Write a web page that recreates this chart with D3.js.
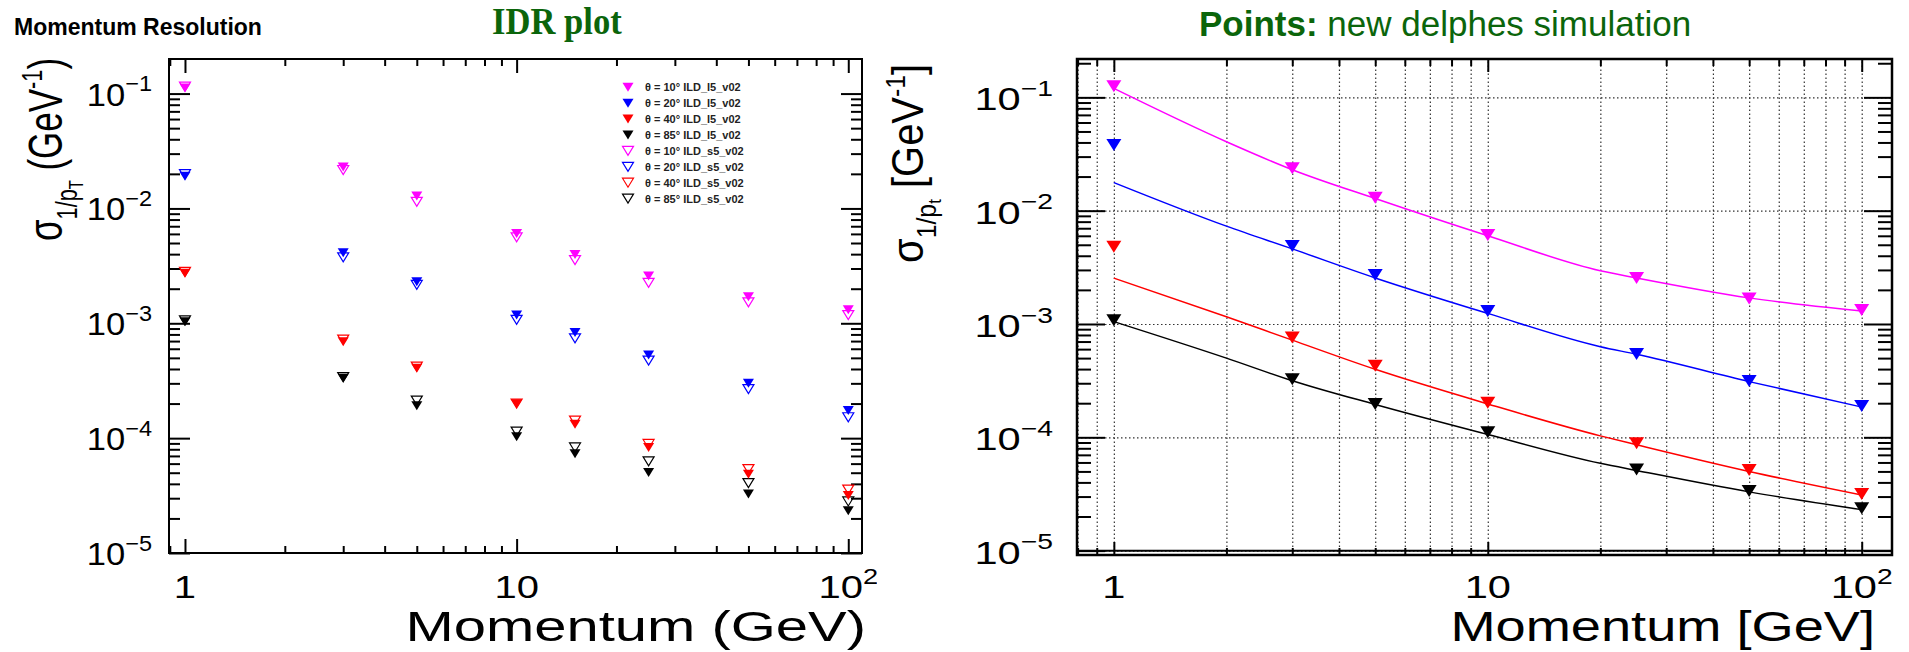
<!DOCTYPE html>
<html>
<head>
<meta charset="utf-8">
<script src="https://cdn.jsdelivr.net/npm/d3@7"></script>
<style>
  html, body { margin: 0; padding: 0; background: #fff; }
  svg { display: block; font-family: "Liberation Sans", Arial, Helvetica, sans-serif; }
</style>
</head>
<body>
<svg id="chart" width="1909" height="652"></svg>
<script>
// ---------------- data ----------------
const angleLabels = ["10", "20", "40", "85"];
const seriesColors = ["#ff00ff", "#0000ff", "#ff0000", "#000000"];

// IDR full simulation: momenta in GeV, sigma(1/pT) in GeV^-1
const momentaIDR = [1, 3, 5, 10, 15, 25, 50, 100];
const idrL5Theta10 = [0.112, 0.0230, 0.0128, 6.06e-3, 3.98e-3, 2.58e-3, 1.70e-3, 1.31e-3];
const idrL5Theta20 = [0.0191, 4.11e-3, 2.30e-3, 1.18e-3, 8.3e-4, 5.3e-4, 3.0e-4, 1.74e-4];
const idrL5Theta40 = [2.72e-3, 6.9e-4, 4.06e-4, 1.99e-4, 1.32e-4, 8.3e-5, 4.86e-5, 3.16e-5];
const idrL5Theta85 = [1.03e-3, 3.33e-4, 1.91e-4, 1.03e-4, 7.3e-5, 5.03e-5, 3.26e-5, 2.33e-5];
const idrS5Theta10 = [0.115, 0.0216, 0.0114, 5.6e-3, 3.55e-3, 2.25e-3, 1.52e-3, 1.18e-3];
const idrS5Theta20 = [0.0199, 3.75e-3, 2.16e-3, 1.07e-3, 7.4e-4, 4.73e-4, 2.67e-4, 1.52e-4];
const idrS5Theta40 = [2.8e-3, 7.2e-4, 4.2e-4, 2.0e-4, 1.42e-4, 8.9e-5, 5.37e-5, 3.56e-5];
const idrS5Theta85 = [1.06e-3, 3.4e-4, 2.12e-4, 1.14e-4, 8.3e-5, 6.27e-5, 4.06e-5, 2.81e-5];

// Delphes simulation points
const momentaDelphes = [1, 3, 5, 10, 25, 50, 100];
const delphesTheta10 = [0.125, 0.0237, 0.0130, 6.1e-3, 2.55e-3, 1.68e-3, 1.33e-3];
const delphesTheta20 = [0.038, 4.87e-3, 2.71e-3, 1.30e-3, 5.43e-4, 3.14e-4, 1.89e-4];
const delphesTheta40 = [4.8e-3, 7.6e-4, 4.27e-4, 2.02e-4, 8.85e-5, 5.14e-5, 3.16e-5];
const delphesTheta85 = [1.08e-3, 3.25e-4, 1.97e-4, 1.11e-4, 5.2e-5, 3.36e-5, 2.36e-5];

// Fitted resolution curves, sampled along momentum
const momentaFit = [1, 2, 3, 5, 10, 20, 25, 50, 100];
const fitTheta10 = [0.120, 0.0406, 0.0230, 0.0128, 6.0e-3, 2.95e-3, 2.55e-3, 1.70e-3, 1.30e-3];
const fitTheta20 = [0.0177, 7.3e-3, 4.6e-3, 2.55e-3, 1.24e-3, 6.3e-4, 5.4e-4, 3.1e-4, 1.85e-4];
const fitTheta40 = [2.54e-3, 1.16e-3, 7.2e-4, 3.98e-4, 1.97e-4, 1.03e-4, 8.6e-5, 5.0e-5, 3.1e-5];
const fitTheta85 = [1.05e-3, 5.0e-4, 3.16e-4, 1.95e-4, 1.06e-4, 5.9e-5, 5.1e-5, 3.3e-5, 2.3e-5];

// tick labels
const yTickExponents = [-1, -2, -3, -4, -5];
const xTickValues = [1, 10, 100];
const xTickBases = ["1", "10", "10"];
const xTickExponents = ["", "", "2"];

// ---------------- drawing ----------------
const svg = d3.select("#chart");
const idrFilled = [idrL5Theta10, idrL5Theta20, idrL5Theta40, idrL5Theta85];
const idrOpen = [idrS5Theta10, idrS5Theta20, idrS5Theta40, idrS5Theta85];
const delphesPoints = [delphesTheta10, delphesTheta20, delphesTheta40, delphesTheta85];
const fitCurves = [fitTheta10, fitTheta20, fitTheta40, fitTheta85];

function triangleDown(w, h) {
  return `M${-w / 2},${-h / 2}L${w / 2},${-h / 2}L0,${h / 2}Z`;
}

function decadeMinors(lo, hi) {
  const out = [];
  for (let e = Math.floor(Math.log10(lo)); e <= Math.ceil(Math.log10(hi)); e++) {
    for (let m = 2; m <= 9; m++) {
      const v = m * Math.pow(10, e);
      if (v > lo * 1.001 && v < hi * 0.999) out.push(v);
    }
  }
  return out;
}
function decades(lo, hi) {
  const out = [];
  for (let e = Math.ceil(Math.log10(lo) - 1e-9); e <= Math.floor(Math.log10(hi) + 1e-9); e++) out.push(Math.pow(10, e));
  return out;
}

function drawTicks(g, axisFn, scale, pos, values, size, horizontal) {
  const ax = g.append("g")
    .attr("transform", horizontal ? `translate(0,${pos})` : `translate(${pos},0)`)
    .call(axisFn(scale).tickValues(values).tickSizeInner(-size).tickSizeOuter(0).tickFormat(""));
  ax.select(".domain").remove();
  ax.selectAll("line").attr("stroke", "#000").attr("stroke-width", 2);
}

function powerLabel(g, xPos, yPos, base, exp, size, supSize, supRise, sx, anchor) {
  const t = g.append("text")
    .attr("transform", `translate(${xPos},${yPos}) scale(${sx},1)`)
    .attr("text-anchor", anchor)
    .attr("font-size", size)
    .attr("fill", "#000");
  t.append("tspan").text(base);
  if (exp) t.append("tspan").attr("font-size", supSize).attr("dy", -supRise).text(exp);
  return t;
}

function drawPanel(cfg) {
  const g = svg.append("g");
  if (cfg.clip) {
    svg.append("clipPath").attr("id", cfg.clip.id)
      .append("rect").attr("x", cfg.clip.x).attr("y", 0).attr("width", cfg.clip.w).attr("height", 652);
    g.attr("clip-path", `url(#${cfg.clip.id})`);
  }
  const x = d3.scaleLog().domain(cfg.xDomain).range([cfg.x0, cfg.x1]);
  const y = d3.scaleLog().domain(cfg.yDomain).range([cfg.y1, cfg.y0]);
  const xMinor = decadeMinors(cfg.xDomain[0], cfg.xDomain[1]);
  const xMajor = decades(cfg.xDomain[0], cfg.xDomain[1]);
  const yMinor = decadeMinors(cfg.yDomain[0], cfg.yDomain[1]);
  const yMajor = decades(cfg.yDomain[0], cfg.yDomain[1]);

  if (cfg.grid) {
    const gx = g.append("g").attr("transform", `translate(0,${cfg.y1})`)
      .call(d3.axisBottom(x).tickValues(xMinor.concat(xMajor)).tickSize(-(cfg.y1 - cfg.y0)).tickFormat(""));
    gx.select(".domain").remove();
    gx.selectAll("line").attr("stroke", "#333").attr("stroke-width", 1.2).attr("stroke-dasharray", "1.5,2.5");
    const gy = g.append("g").attr("transform", `translate(${cfg.x0},0)`)
      .call(d3.axisLeft(y).tickValues(yMajor).tickSize(-(cfg.x1 - cfg.x0)).tickFormat(""));
    gy.select(".domain").remove();
    gy.selectAll("line").attr("stroke", "#333").attr("stroke-width", 1.2).attr("stroke-dasharray", "1.5,2.5");
    // solid line along the lowest decade
    g.append("line").attr("x1", cfg.x0).attr("x2", cfg.x1)
      .attr("y1", y(yMajor[0])).attr("y2", y(yMajor[0]))
      .attr("stroke", "#000").attr("stroke-width", 2);
  }

  // frame
  g.append("rect").attr("x", cfg.x0).attr("y", cfg.y0)
    .attr("width", cfg.x1 - cfg.x0).attr("height", cfg.y1 - cfg.y0)
    .attr("fill", "none").attr("stroke", "#000").attr("stroke-width", cfg.frameWidth);

  // ticks on all four sides
  drawTicks(g, d3.axisBottom, x, cfg.y1, xMinor, cfg.xMinorLen, true);
  drawTicks(g, d3.axisBottom, x, cfg.y1, xMajor, cfg.xMajorLen, true);
  drawTicks(g, d3.axisTop, x, cfg.y0, xMinor, cfg.xMinorLen, true);
  drawTicks(g, d3.axisTop, x, cfg.y0, xMajor, cfg.xMajorLen, true);
  drawTicks(g, d3.axisLeft, y, cfg.x0, yMinor, cfg.yMinorLen, false);
  drawTicks(g, d3.axisLeft, y, cfg.x0, yMajor, cfg.yMajorLen, false);
  drawTicks(g, d3.axisRight, y, cfg.x1, yMinor, cfg.yMinorLen, false);
  drawTicks(g, d3.axisRight, y, cfg.x1, yMajor, cfg.yMajorLen, false);

  // tick labels
  yTickExponents.forEach(e => {
    powerLabel(g, cfg.yLabelX, y(Math.pow(10, e)) + cfg.yLabelDy, "10", "\u2212" + Math.abs(e),
      cfg.labelSize, cfg.labelSize * 0.68, cfg.labelSize * 0.45, cfg.yLabelSx, "end");
  });
  xTickValues.forEach((v, i) => {
    powerLabel(g, x(v), cfg.xLabelY, xTickBases[i], xTickExponents[i],
      cfg.labelSize, cfg.labelSize * 0.68, cfg.labelSize * 0.45, cfg.xLabelSx, "middle");
  });

  // axis titles
  g.append("text")
    .attr("transform", `translate(${cfg.xTitleX},${cfg.xTitleY}) scale(${cfg.xTitleSx},1)`)
    .attr("text-anchor", "end").attr("font-size", cfg.xTitleSize).text(cfg.xTitle);

  const F = cfg.yTitleSize;
  const yt = g.append("text")
    .attr("transform", `translate(${cfg.yTitleX},${cfg.yTitleY}) rotate(-90) scale(1,${cfg.yTitleS})`)
    .attr("font-size", F);
  yt.append("tspan").text("\u03c3");
  yt.append("tspan").attr("font-size", F * 0.62).attr("dy", F * 0.3).text("1/p");
  yt.append("tspan").attr("font-size", F * 0.42).attr("dy", F * 0.12).text(cfg.subSub);
  yt.append("tspan").attr("font-size", F).attr("dy", -F * 0.42).text(" " + cfg.unitOpen + "GeV");
  yt.append("tspan").attr("font-size", F * 0.62).attr("dy", -F * 0.4).text("-1");
  yt.append("tspan").attr("font-size", F).attr("dy", F * 0.4).text(cfg.unitClose);

  return { g, x, y };
}

// ---- left panel: IDR full simulation ----
const left = drawPanel({
  x0: 169, x1: 862, y0: 59, y1: 553,
  xDomain: [0.895, 110], yDomain: [1e-5, 0.2],
  frameWidth: 2, grid: false,
  xMajorLen: 14, xMinorLen: 7, yMajorLen: 21, yMinorLen: 11,
  labelSize: 32, yLabelSx: 1.08, xLabelSx: 1.25, yLabelX: 152, yLabelDy: 12, xLabelY: 598,
  xTitle: "Momentum (GeV)", xTitleX: 866, xTitleY: 641, xTitleSize: 42, xTitleSx: 1.38,
  yTitleX: 62, yTitleY: 241, yTitleSize: 35, yTitleS: 1.4, subSub: "T", unitOpen: "(", unitClose: ")",
  clip: { id: "leftClip", x: 0, w: 877 }
});

const markerL = { w: 11, h: 9 };
idrOpen.forEach((vals, si) => {
  left.g.append("g").selectAll("path").data(momentaIDR.map((p, i) => [p, vals[i]])).join("path")
    .attr("d", triangleDown(markerL.w, markerL.h))
    .attr("transform", d => `translate(${left.x(d[0])},${left.y(d[1])})`)
    .attr("fill", "none").attr("stroke", seriesColors[si]).attr("stroke-width", 1.2);
});
idrFilled.forEach((vals, si) => {
  left.g.append("g").selectAll("path").data(momentaIDR.map((p, i) => [p, vals[i]])).join("path")
    .attr("d", triangleDown(markerL.w, markerL.h))
    .attr("transform", d => `translate(${left.x(d[0])},${left.y(d[1])})`)
    .attr("fill", seriesColors[si]);
});

// legend
const legend = left.g.append("g");
const legendRows = [];
["l5", "s5"].forEach(tag => angleLabels.forEach((a, i) => legendRows.push({ tag, a, color: seriesColors[i] })));
legendRows.forEach((r, i) => {
  const yy = 87.3 + i * 15.9;
  legend.append("path").attr("d", triangleDown(11, 9))
    .attr("transform", `translate(628,${yy})`)
    .attr("fill", r.tag === "l5" ? r.color : "none")
    .attr("stroke", r.tag === "l5" ? "none" : r.color).attr("stroke-width", 1.2);
  legend.append("text").attr("x", 645).attr("y", yy + 4)
    .attr("font-size", 11).attr("font-weight", "bold").attr("fill", "#222")
    .text(`\u03b8 = ${r.a}\u00b0 ILD_${r.tag}_v02`);
});

svg.append("text").attr("x", 14).attr("y", 35)
  .attr("font-size", 23).attr("font-weight", "bold").text("Momentum Resolution");
svg.append("text").attr("transform", "translate(492,34) scale(0.91,1)")
  .attr("font-family", "'Liberation Serif', 'Times New Roman', serif")
  .attr("font-size", 38).attr("font-weight", "bold").attr("fill", "#0b650b").text("IDR plot");

// ---- right panel: Delphes simulation ----
const right = drawPanel({
  x0: 1077, x1: 1892, y0: 59, y1: 555,
  xDomain: [0.797, 120.5], yDomain: [9.15e-6, 0.218],
  frameWidth: 2.5, grid: true,
  xMajorLen: 13, xMinorLen: 7, yMajorLen: 28, yMinorLen: 14,
  labelSize: 32, yLabelSx: 1.3, xLabelSx: 1.3, yLabelX: 1053, yLabelDy: 13, xLabelY: 598,
  xTitle: "Momentum [GeV]", xTitleX: 1875, xTitleY: 641, xTitleSize: 42, xTitleSx: 1.29,
  yTitleX: 923, yTitleY: 263, yTitleSize: 40, yTitleS: 1.1, subSub: "t", unitOpen: "[", unitClose: "]"
});

const line = d3.line().x(d => right.x(d[0])).y(d => right.y(d[1])).curve(d3.curveMonotoneX);
fitCurves.forEach((vals, si) => {
  right.g.append("path").datum(momentaFit.map((p, i) => [p, vals[i]]))
    .attr("d", line).attr("fill", "none").attr("stroke", seriesColors[si]).attr("stroke-width", 1.5);
});
delphesPoints.forEach((vals, si) => {
  right.g.append("g").selectAll("path").data(momentaDelphes.map((p, i) => [p, vals[i]])).join("path")
    .attr("d", triangleDown(15, 12))
    .attr("transform", d => `translate(${right.x(d[0])},${right.y(d[1])})`)
    .attr("fill", seriesColors[si]);
});

const title = svg.append("text").attr("x", 1199).attr("y", 36).attr("font-size", 35).attr("fill", "#0b650b");
title.append("tspan").attr("font-weight", "bold").text("Points:");
title.append("tspan").text(" new delphes simulation");
</script>
</body>
</html>
